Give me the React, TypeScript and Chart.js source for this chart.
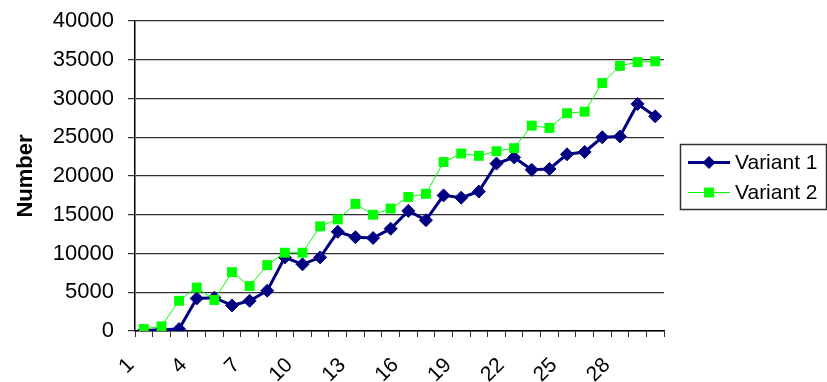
import React, { useEffect, useRef } from 'react';
import { Chart, registerables } from 'chart.js';

Chart.register(...registerables);

const categories = ['1','2','3','4','5','6','7','8','9','10','11','12','13','14','15','16','17','18','19','20','21','22','23','24','25','26','27','28','29','30'];

const variant1 = [50, 150, 250, 4200, 4300, 3300, 3900, 5200, 9500, 8600, 9500, 12800, 12100, 12000, 13200, 15500, 14300, 17500, 17200, 18000, 21600, 22400, 20800, 20900, 22800, 23100, 25000, 25100, 29300, 27700];

const variant2 = [260, 600, 3900, 5600, 4000, 7600, 5800, 8500, 10100, 10100, 13500, 14400, 16400, 15000, 15800, 17300, 17700, 21800, 22900, 22600, 23200, 23600, 26500, 26200, 28100, 28300, 32000, 34200, 34700, 34800];

const yMin = 0;
const yMax = 40000;
const yStep = 5000;
const labelEvery = 3;

const FONT = '"Liberation Sans", Arial, sans-serif';

const boxLegend = {
  id: 'boxLegend',
  afterDraw(chart: any) {
    const { ctx, chartArea } = chart;
    const w = 146;
    const h = 65;
    const x0 = chartArea.right + 16;
    const y0 = Math.round((chartArea.top + chartArea.bottom) / 2 - h / 2);
    ctx.save();
    ctx.strokeStyle = '#333333';
    ctx.lineWidth = 1.5;
    ctx.strokeRect(x0 + 0.5, y0 + 0.5, w, h);
    chart.data.datasets.forEach((ds: any, i: number) => {
      const cy = y0 + 18.5 + i * 30;
      ctx.strokeStyle = ds.borderColor;
      ctx.lineWidth = ds.borderWidth;
      ctx.beginPath();
      ctx.moveTo(x0 + 8, cy);
      ctx.lineTo(x0 + 50, cy);
      ctx.stroke();
      const mx = x0 + 29;
      ctx.fillStyle = ds.pointBackgroundColor;
      ctx.beginPath();
      if (ds.pointStyle === 'rectRot') {
        const r = ds.pointRadius;
        ctx.moveTo(mx, cy - r);
        ctx.lineTo(mx + r, cy);
        ctx.lineTo(mx, cy + r);
        ctx.lineTo(mx - r, cy);
        ctx.closePath();
      } else {
        const s = ds.pointRadius * Math.SQRT1_2;
        ctx.rect(mx - s, cy - s, 2 * s, 2 * s);
      }
      ctx.fill();
      ctx.fillStyle = '#000000';
      ctx.font = `21px ${FONT}`;
      ctx.textBaseline = 'middle';
      ctx.textAlign = 'left';
      ctx.fillText(ds.label, x0 + 55, cy + 1);
    });
    ctx.restore();
  },
};

export default function App() {
  const ref = useRef<HTMLCanvasElement | null>(null);

  useEffect(() => {
    document.body.style.margin = '0';
    const canvas = ref.current;
    if (!canvas) return;
    const chart = new Chart(canvas, {
      type: 'line',
      data: {
        labels: categories,
        datasets: [
          {
            label: 'Variant 1',
            data: variant1,
            borderColor: '#000080',
            backgroundColor: '#000080',
            pointBackgroundColor: '#000080',
            pointBorderColor: '#000080',
            borderWidth: 3,
            pointStyle: 'rectRot',
            pointRadius: 6.5,
            pointBorderWidth: 1,
            tension: 0,
            order: 2,
          },
          {
            label: 'Variant 2',
            data: variant2,
            borderColor: '#00FF00',
            backgroundColor: '#00FF00',
            pointBackgroundColor: '#00FF00',
            pointBorderColor: '#00FF00',
            borderWidth: 1,
            pointStyle: 'rect',
            pointRadius: 7,
            pointBorderWidth: 0,
            tension: 0,
            order: 1,
          },
        ],
      },
      options: {
        responsive: false,
        animation: false,
        events: [],
        layout: { padding: { left: 0, right: 163, top: 21, bottom: 0 } },
        plugins: {
          legend: { display: false },
          tooltip: { enabled: false },
        },
        scales: {
          x: {
            type: 'category',
            offset: true,
            afterFit: (scale: any) => {
              scale.height = 51;
              scale.paddingLeft = 0;
              scale.paddingRight = 0;
            },
            grid: {
              offset: true,
              drawOnChartArea: false,
              drawTicks: true,
              tickLength: 6,
              color: '#303030',
              tickColor: '#303030',
              lineWidth: 1,
            },
            border: { display: true, color: '#000000', width: 1.5 },
            ticks: {
              autoSkip: false,
              maxRotation: 45,
              minRotation: 45,
              padding: 16,
              labelOffset: -13,
              color: '#000000',
              font: { family: FONT, size: 21 },
              callback: (_v: any, i: number) => (i % labelEvery === 0 ? categories[i] : ''),
            },
          },
          y: {
            min: yMin,
            max: yMax,
            afterFit: (scale: any) => {
              scale.width = 135;
              scale.paddingTop = 0;
              scale.paddingBottom = 0;
            },
            grid: {
              color: '#303030',
              tickColor: '#303030',
              lineWidth: 1.2,
              drawTicks: true,
              tickLength: 7,
            },
            border: { display: true, color: '#000000', width: 1.5 },
            ticks: {
              stepSize: yStep,
              padding: 14,
              color: '#000000',
              font: { family: FONT, size: 22 },
              callback: (v: any) => String(v),
            },
            title: {
              display: true,
              text: 'Number',
              color: '#000000',
              font: { family: FONT, size: 22, weight: 'bold' },
              padding: { top: 13, bottom: 0 },
            },
          },
        },
      },
      plugins: [boxLegend],
    });
    return () => chart.destroy();
  }, []);

  return (
    <div style={{ width: 827, height: 382 }}>
      <canvas ref={ref} width={827} height={382} style={{ display: 'block', width: 827, height: 382 }} />
    </div>
  );
}
